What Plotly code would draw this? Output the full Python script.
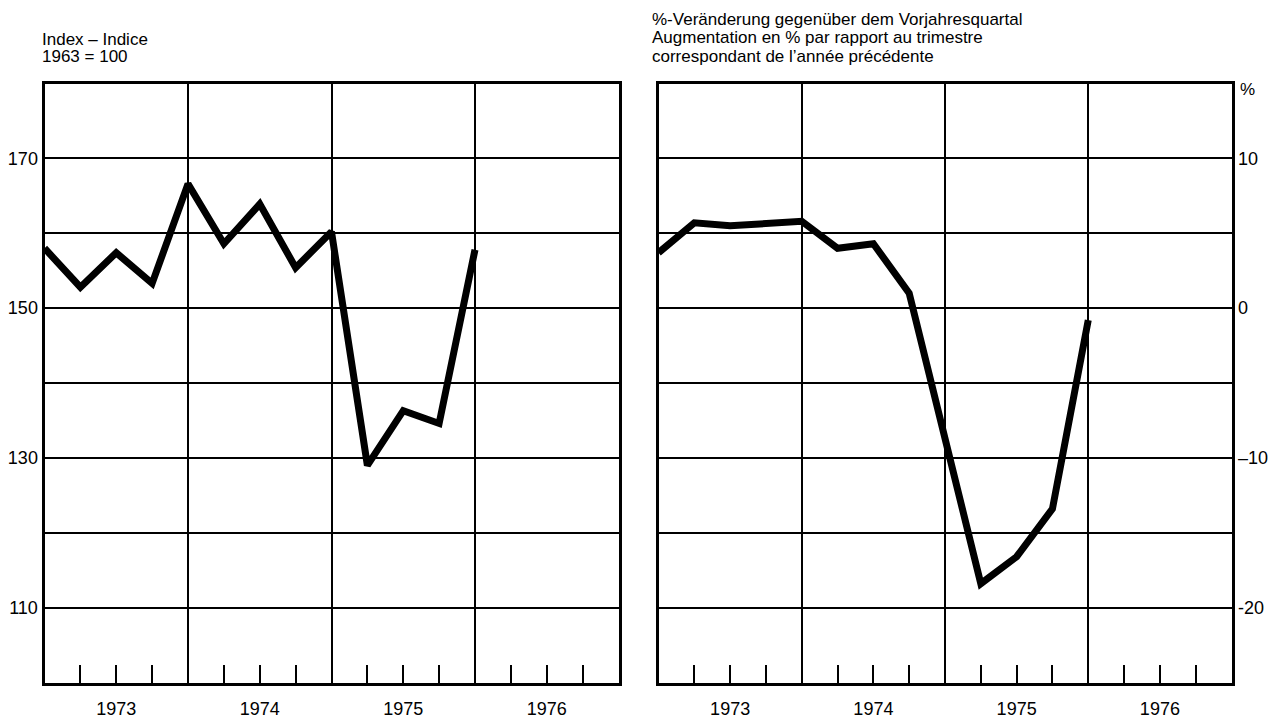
import plotly.graph_objects as go

# quarter index counted from the start of 1973 (0 = start of 1973)
quarters = list(range(0, 13))
index_values = [158.0, 152.8, 157.4, 153.3, 166.6, 158.6, 163.9, 155.4, 160.2, 129.0, 136.3, 134.6, 157.8]
change_values = [3.7, 5.7, 5.5, 5.6, 5.8, 4.0, 4.3, 1.0, -8.8, -18.4, -16.6, -13.4, -0.8]

years = ["1973", "1974", "1975", "1976"]
quarter_ticks = [1, 2, 3, 5, 6, 7, 9, 10, 11, 13, 14, 15]
quarter_text = ["", years[0], "", "", years[1], "", "", years[2], "", "", years[3], ""]
year_bounds = [4, 8, 12]

left_ticks = [110, 120, 130, 140, 150, 160, 170]
left_labels = ["110", "", "130", "", "150", "", "170"]
right_ticks = [-20, -15, -10, -5, 0, 5, 10]
right_labels = ["-20", "", "–10", "", "0", "", "10"]

OFF = 8  # page body margin
W, H = 1279 - OFF, 724 - OFF
FONT = "Liberation Sans, Arial, sans-serif"

def px(x):
    return (x - OFF) / W

def py(y):
    return 1 - (y - OFF) / H

fig = go.Figure()
fig.add_trace(go.Scatter(x=quarters, y=index_values, mode="lines",
                         line=dict(color="black", width=7), xaxis="x", yaxis="y",
                         showlegend=False, hoverinfo="skip"))
fig.add_trace(go.Scatter(x=quarters, y=change_values, mode="lines",
                         line=dict(color="black", width=7), xaxis="x2", yaxis="y2",
                         showlegend=False, hoverinfo="skip"))

xcommon = dict(range=[0, 16], tickmode="array", tickvals=quarter_ticks, ticktext=quarter_text,
               ticks="inside", ticklen=18, tickwidth=2, tickcolor="black",
               showgrid=False, zeroline=False, showline=True, linewidth=3, linecolor="black",
               mirror=True, ticklabelstandoff=8,
               tickfont=dict(family=FONT, size=18, color="black"),
               minor=dict(tickmode="array", tickvals=year_bounds, showgrid=True,
                          gridcolor="black", gridwidth=1.5, ticks=""),
               fixedrange=True)

ycommon = dict(tickmode="array", ticks="", showgrid=True, gridcolor="black", gridwidth=1.5,
               zeroline=False, showline=True, linewidth=3, linecolor="black", mirror=True,
               tickfont=dict(family=FONT, size=18, color="black"), fixedrange=True,
               ticklabelstandoff=0)

fig.update_layout(
    width=W, height=H,
    margin=dict(l=0, r=0, t=0, b=0),
    paper_bgcolor="white", plot_bgcolor="white",
    xaxis=dict(domain=[px(44.5), px(618.5)], anchor="y", **xcommon),
    yaxis=dict(domain=[py(682.5), py(83.5)], anchor="x", range=[100, 180],
               tickvals=left_ticks, ticktext=left_labels, side="left", **ycommon),
    xaxis2=dict(domain=[px(658.5), px(1231.5)], anchor="y2", **xcommon),
    yaxis2=dict(domain=[py(682.5), py(83.5)], anchor="x2", range=[-25, 15],
                tickvals=right_ticks, ticktext=right_labels, side="right", **ycommon),
)

ann_font = dict(family=FONT, size=17, color="black")
texts = [
    ("Index – Indice", 40, 39),
    ("1963 = 100", 40, 57),
    ("%-Veränderung gegenüber dem Vorjahresquartal", 650, 19),
    ("Augmentation en % par rapport au trimestre", 650, 37),
    ("correspondant de l’année précédente", 650, 56),
    ("%", 1238, 89),
]
for t, x, y in texts:
    fig.add_annotation(text=t, x=px(x), y=py(y), xref="paper", yref="paper",
                       xanchor="left", yanchor="middle", showarrow=False, font=ann_font)

fig.write_html("out.html")
